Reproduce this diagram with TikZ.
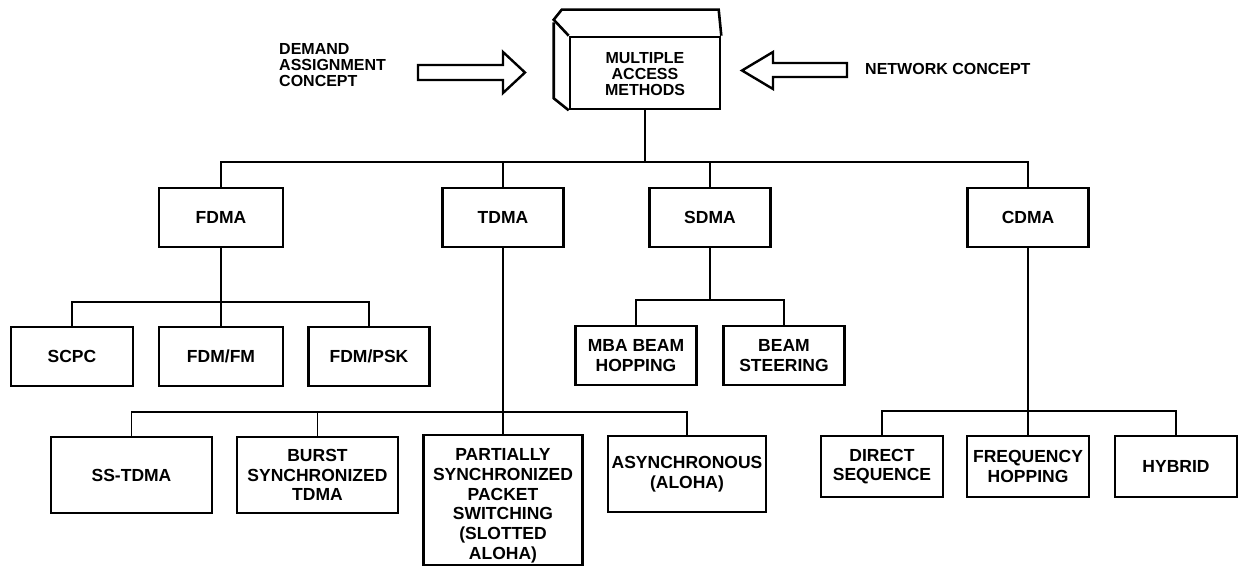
\documentclass[tikz,border=0pt]{standalone}
\usepackage{fontspec}
\setmainfont{Liberation Sans}
\newcommand\boxfont{\bfseries\fontsize{17.5}{19.7}\selectfont}
\newcommand\topfont{\bfseries\fontsize{16}{16}\selectfont}
\tikzset{
  box/.style={draw, line width=2.6pt, inner sep=0pt, align=center, font=\boxfont},
  smallbox/.style={box, minimum width=122pt, minimum height=59pt},
  bigbox/.style={box, minimum width=160pt, minimum height=76pt},
  conn/.style={line width=1.9pt},
  blockarrow/.style={draw, line width=2.4pt, line join=miter},
  label/.style={font=\topfont, inner sep=0pt, align=left}
}
\begin{document}
\begin{tikzpicture}[x=1pt, y=-1pt]
\useasboundingbox (0,0) rectangle (1242,567);

% top 3D box
\node[box, minimum width=150pt, minimum height=72pt, font=\topfont] (mam) at (645,73) {\raisebox{-3pt}[\height][\depth]{\begin{tabular}{@{}c@{}}MULTIPLE\\ACCESS\\METHODS\end{tabular}}};
\draw[box] (mam.north west) -- ++(-15,-16) -- ++(8,-10) -- ++(157,0) -- (mam.north east);
\draw[box] (mam.south west) -- ++(-15,-12) -- ++(0,-76);

% side labels and block arrows
\node[label, anchor=west] (demand) at (279,65.5) {DEMAND\\ASSIGNMENT\\CONCEPT};
\draw[blockarrow] (418,65) -- (503,65) -- (503,52) -- (525,72.5) -- (503,93) -- (503,80) -- (418,80) -- cycle;
\node[label, anchor=west] (network) at (865,69) {NETWORK CONCEPT};
\draw[blockarrow] (847,63) -- (773,63) -- (773,52) -- (742,70.5) -- (773,89) -- (773,77) -- (847,77) -- cycle;

% second level
\node[smallbox, minimum width=124pt] (fdma) at (221,217.5) {FDMA};
\node[smallbox, minimum width=121pt] (tdma) at (503,217.5) {TDMA};
\node[smallbox, minimum width=121pt] (sdma) at (710,217.5) {SDMA};
\node[smallbox, minimum width=121pt] (cdma) at (1028,217.5) {CDMA};

% FDMA children
\node[smallbox] (scpc) at (72,356.5) {SCPC};
\node[smallbox, minimum width=124pt] (fdmfm) at (221,356.5) {FDM/FM};
\node[smallbox, minimum width=121pt] (fdmpsk) at (369,356.5) {FDM/PSK};

% SDMA children
\node[smallbox, minimum width=121pt] (mba) at (636,355.5) {MBA BEAM\\HOPPING};
\node[smallbox, minimum width=121pt] (beam) at (784,355.5) {BEAM\\STEERING};

% TDMA children
\node[bigbox, minimum width=161pt] (sstdma) at (131.5,475) {SS-TDMA};
\node[bigbox, minimum width=161pt] (burst) at (317.5,475) {BURST\\SYNCHRONIZED\\TDMA};
\node[box, minimum width=159pt, minimum height=130pt] (partial) at (503,500) {\raisebox{-6pt}[\height][\depth]{\begin{tabular}{@{}c@{}}PARTIALLY\\SYNCHRONIZED\\PACKET\\SWITCHING\\(SLOTTED\\ALOHA)\end{tabular}}};
\node[bigbox, minimum width=158pt] (async) at (687,474) {ASYNCHRONOUS\\(ALOHA)};

% CDMA children
\node[smallbox, minimum height=61pt] (direct) at (882,466.5) {DIRECT\\SEQUENCE};
\node[smallbox, minimum height=61pt] (freq) at (1028,466.5) {FREQUENCY\\HOPPING};
\node[smallbox, minimum height=61pt] (hybrid) at (1176,466.5) {HYBRID};

% level 1 connectors
\coordinate (b1) at (645,162);
\draw[conn] (mam.south) -- (b1);
\draw[conn] (fdma.north) |- (b1) -| (cdma.north);
\draw[conn] (tdma.north) -- (tdma.north |- b1);
\draw[conn] (sdma.north) -- (sdma.north |- b1);

% FDMA connectors
\path (fdma.south) ++(0,54) coordinate (bf);
\draw[conn] (fdma.south) -- (bf);
\draw[conn] (scpc.north) |- (bf) -| (fdmpsk.north);
\draw[conn] (fdmfm.north) -- (fdmfm.north |- bf);

% TDMA connectors
\path (tdma.south) ++(0,164) coordinate (bt);
\draw[conn] (tdma.south) -- (partial.north);
\draw[conn] (sstdma.north) |- (bt) -| (async.north);
\draw[conn] (burst.north) -- (burst.north |- bt);

% SDMA connectors
\path (sdma.south) ++(0,52) coordinate (bs);
\draw[conn] (sdma.south) -- (bs);
\draw[conn] (mba.north) |- (bs) -| (beam.north);

% CDMA connectors
\path (cdma.south) ++(0,163) coordinate (bc);
\draw[conn] (cdma.south) -- (freq.north);
\draw[conn] (direct.north) |- (bc) -| (hybrid.north);
\end{tikzpicture}
\end{document}
